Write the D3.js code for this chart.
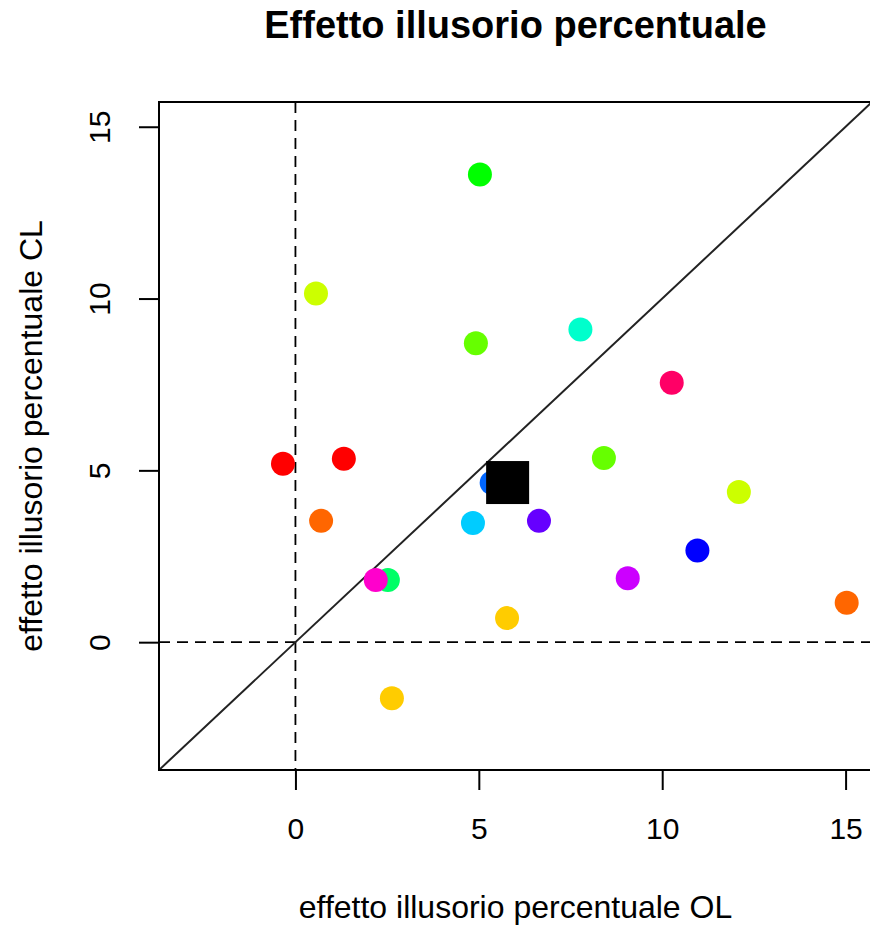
<!DOCTYPE html>
<html>
<head>
<meta charset="utf-8">
<script src="https://cdn.jsdelivr.net/npm/d3@7"></script>
<style>
  html, body { margin: 0; padding: 0; background: #fff; }
  svg { display: block; font-family: "Liberation Sans", Arial, Helvetica, sans-serif; }
</style>
</head>
<body>
<svg id="chart" width="870" height="931"></svg>
<script>
// Percent illusory effect per subject: open-loop (OL) vs closed-loop (CL)
const olValues = [5.03, 0.56, 4.92, 7.77, 10.26, -0.34, 1.32, 5.35, 8.41, 12.09,
                  0.70, 4.84, 6.64, 10.96, 2.19, 2.52, 9.06, 15.03, 5.77, 2.63];
const clValues = [13.61, 10.15, 8.70, 9.10, 7.55, 5.19, 5.34, 4.64, 5.36, 4.37,
                  3.53, 3.47, 3.53, 2.67, 1.81, 1.81, 1.86, 1.15, 0.70, -1.63];
const pointColors = ["#00FF00", "#CCFF00", "#66FF00", "#00FFCC", "#FF0066", "#FF0000",
                     "#FF0000", "#0066FF", "#66FF00", "#CCFF00", "#FF6600", "#00CCFF",
                     "#6600FF", "#0000FF", "#FF00CC", "#00FF66", "#CC00FF", "#FF6600",
                     "#FFCC00", "#FFCC00"];
// draw order: later subjects on top
const drawOrder = [5, 10, 18, 1, 2, 0, 15, 3, 11, 7, 13, 12, 16, 14, 4, 6, 19, 9, 8, 17];
const axisLimits = [-3, 15];
const tickValues = [0, 5, 10, 15];

const titleText = "Effetto illusorio percentuale";
const xLabel = "effetto illusorio percentuale OL";
const yLabel = "effetto illusorio percentuale CL";

const svg = d3.select("#chart");
const plot = { left: 159, right: 872, top: 102, bottom: 770 };

// R-style 4% extension of the axis limits
const pad = (axisLimits[1] - axisLimits[0]) * 0.04;
const domain = [axisLimits[0] - pad, axisLimits[1] + pad];

const x = d3.scaleLinear().domain(domain).range([plot.left, plot.right]);
const y = d3.scaleLinear().domain(domain).range([plot.bottom, plot.top]);

svg.append("defs").append("clipPath").attr("id", "plotClip")
  .append("rect")
  .attr("x", plot.left).attr("y", plot.top)
  .attr("width", plot.right - plot.left).attr("height", plot.bottom - plot.top);

const inner = svg.append("g").attr("clip-path", "url(#plotClip)");

// reference lines at zero
inner.append("line")
  .attr("x1", x(0)).attr("x2", x(0))
  .attr("y1", plot.top).attr("y2", plot.bottom)
  .attr("stroke", "#000").attr("stroke-width", 1.8).attr("stroke-dasharray", "11,7");
inner.append("line")
  .attr("x1", plot.left).attr("x2", plot.right)
  .attr("y1", y(0)).attr("y2", y(0))
  .attr("stroke", "#000").attr("stroke-width", 1.8).attr("stroke-dasharray", "11,7");

// identity line
inner.append("line")
  .attr("x1", x(domain[0])).attr("y1", y(domain[0]))
  .attr("x2", x(domain[1])).attr("y2", y(domain[1]))
  .attr("stroke", "#222").attr("stroke-width", 2);

// subjects
inner.selectAll("circle.subject")
  .data(drawOrder)
  .join("circle")
  .attr("class", "subject")
  .attr("cx", i => x(olValues[i]))
  .attr("cy", i => y(clValues[i]))
  .attr("r", 12)
  .attr("fill", i => pointColors[i]);

// group mean
const meanOL = d3.mean(olValues);
const meanCL = d3.mean(clValues);
const side = 43;
inner.append("rect")
  .attr("x", x(meanOL) - side / 2)
  .attr("y", y(meanCL) - side / 2)
  .attr("width", side).attr("height", side)
  .attr("fill", "#000");

// frame
svg.append("rect")
  .attr("x", plot.left).attr("y", plot.top)
  .attr("width", plot.right - plot.left).attr("height", plot.bottom - plot.top)
  .attr("fill", "none").attr("stroke", "#000").attr("stroke-width", 2);

// x axis
const xAxis = svg.append("g")
  .attr("transform", `translate(0,${plot.bottom})`)
  .call(d3.axisBottom(x).tickValues(tickValues).tickSize(20).tickPadding(28).tickFormat(d3.format("d")));
xAxis.select(".domain").remove();
xAxis.selectAll(".tick line").attr("stroke", "#000").attr("stroke-width", 2);
xAxis.selectAll(".tick text").attr("font-size", 30).attr("fill", "#000")
  .attr("font-family", "'Liberation Sans', Arial, sans-serif");

// y axis with rotated labels
const yAxis = svg.append("g")
  .attr("transform", `translate(${plot.left},0)`)
  .call(d3.axisLeft(y).tickValues(tickValues).tickSize(20).tickFormat(d3.format("d")));
yAxis.select(".domain").remove();
yAxis.selectAll(".tick line").attr("stroke", "#000").attr("stroke-width", 2);
yAxis.selectAll(".tick text")
  .attr("font-size", 30).attr("fill", "#000")
  .attr("font-family", "'Liberation Sans', Arial, sans-serif")
  .attr("x", null).attr("dy", null)
  .attr("text-anchor", "middle")
  .attr("transform", "translate(-60,0) rotate(-90)")
  .attr("dominant-baseline", "central");

// titles
svg.append("text")
  .attr("x", (plot.left + plot.right) / 2).attr("y", 38)
  .attr("text-anchor", "middle")
  .attr("font-size", 38).attr("font-weight", "bold")
  .text(titleText);

svg.append("text")
  .attr("x", (plot.left + plot.right) / 2).attr("y", 918)
  .attr("text-anchor", "middle")
  .attr("font-size", 32)
  .text(xLabel);

svg.append("text")
  .attr("transform", `translate(42,${(plot.top + plot.bottom) / 2}) rotate(-90)`)
  .attr("text-anchor", "middle")
  .attr("font-size", 32)
  .text(yLabel);
</script>
</body>
</html>
